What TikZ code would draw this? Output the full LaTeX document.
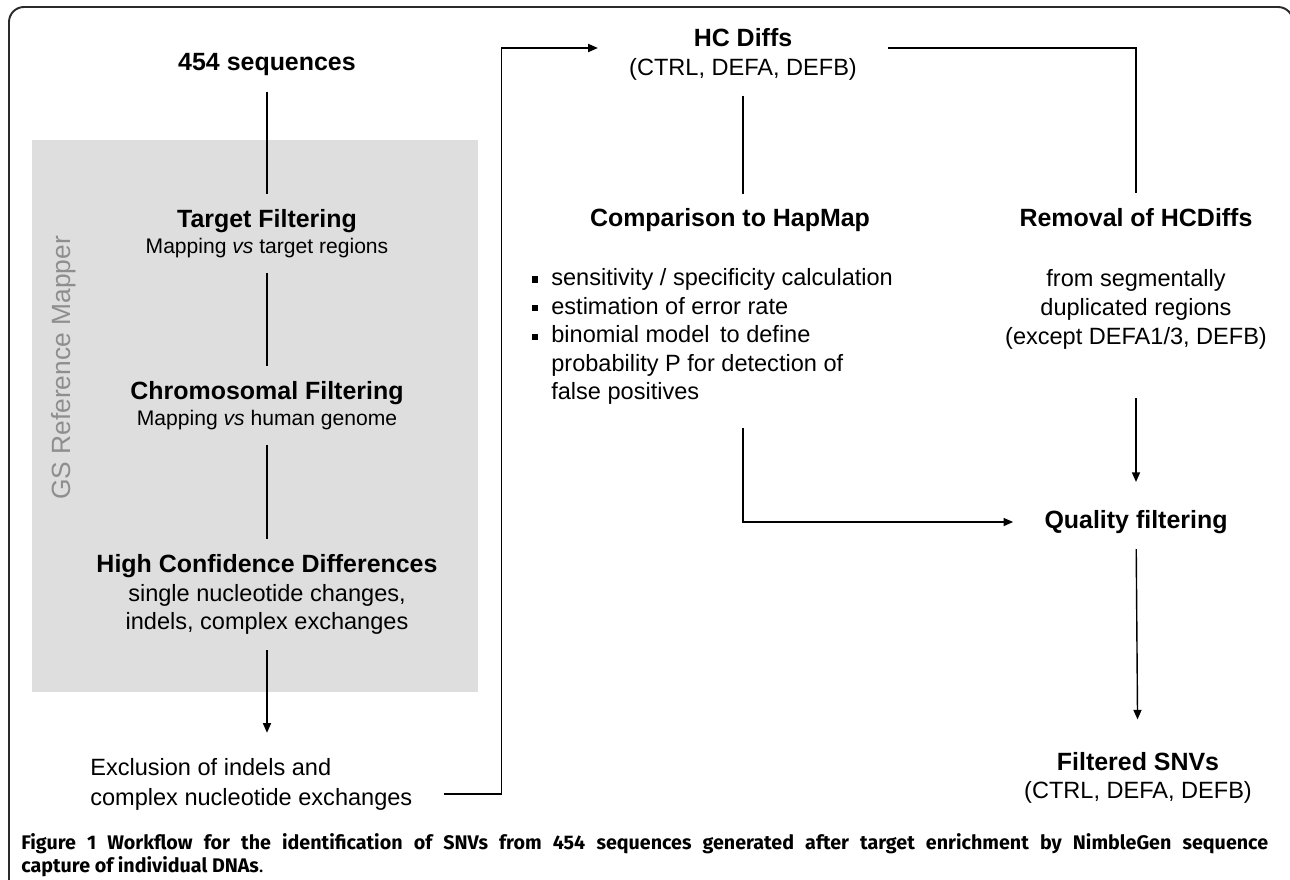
\documentclass[tikz,border=0pt]{standalone}
\usepackage{fontspec}
\setmainfont{Liberation Sans}
\newfontfamily\capfont{Fira Sans}
\usepackage{tikz}
\usetikzlibrary{positioning,arrows.meta}

\definecolor{gsgray}{HTML}{DEDEDE}
\definecolor{gslabel}{HTML}{8E8E8E}
\definecolor{framegray}{HTML}{2A2A2A}

\newcommand{\headfont}{\fontsize{14.2}{16}\selectfont\bfseries}
\newcommand{\subfont}{\fontsize{13.4}{16.3}\selectfont}
\newcommand{\mapfont}{\fontsize{12}{15}\selectfont}
\newcommand{\blt}{\makebox[0.38cm][l]{\rule[0.12em]{0.26em}{0.26em}}}

\begin{document}
\begin{tikzpicture}
    [ x = 0.02cm, y = -0.02cm
    , block/.style =
      { align=center, inner xsep=0.62cm, inner ysep=0.3cm }
    , title/.style =
      { block, font=\headfont }
    , stage/.style =
      { block, font=\mapfont }
    , info/.style =
      { block, font=\subfont }
    , edge/.style =
      { line width=0.8pt }
    , flow/.style =
      { edge, -{Triangle[length=5.5pt,width=4.6pt]} }
    ]
    \useasboundingbox (0,0) rectangle (1290,879);
    \draw [framegray, line width=1.1pt, rounded corners=0.3cm] (9,7) rectangle (1293,900);

    % GS Reference Mapper
    \fill [gsgray] (32,140) rectangle (478,692);
    \node [rotate=90, text=gslabel, font=\fontsize{15}{18}\selectfont] (gs) at (64,368) {GS Reference Mapper};

    \node [title] (seq) at (267,65) {454 sequences};
    \node [stage] (tf) at (267,233.5) {{\headfont Target Filtering}\\ Mapping \textit{vs} target regions};
    \node [stage] (cf) at (267,405.5) {{\headfont Chromosomal Filtering}\\ Mapping \textit{vs} human genome};
    \node [info] (hcd) at (267,594.5) {{\headfont High Confidence Differences}\\ single nucleotide changes,\\ indels, complex exchanges};
    \node [info, align=left, anchor=west] (excl) at (59,784) {Exclusion of indels and\\[0.7pt] complex nucleotide exchanges};

    \node [info] (hc) at (743,54.5) {{\headfont HC Diffs}\\ (CTRL, DEFA, DEFB)};
    \node [title] (cmp) at (730,220.5) {Comparison to HapMap};
    \node [info, align=left, anchor=north west, inner sep=0pt] (bul) at (532,268)
      {\blt sensitivity / specificity calculation\\
       \blt estimation of error rate\\
       \blt binomial model\, to define\\
       \hspace*{0.38cm}probability P for detection of\\
       \hspace*{0.38cm}false positives};
    \node [title] (rem) at (1136,218) {Removal of HCDiffs};
    \node [info] (remsub) [below=0.24cm of rem] {from segmentally\\ duplicated regions\\ (except DEFA1/3, DEFB)};
    \node [title] (qf) at (1136,522) {Quality filtering};
    \node [info] (snv) at (1138,778) {{\headfont Filtered SNVs}\\[-0.7pt] (CTRL, DEFA, DEFB)};

    \node [anchor=north west, inner sep=0pt, text width=24.94cm, align=justify] (cap) at (21,833)
      {\capfont\fontsize{11.2}{13}\selectfont
       \textbf{Figure 1 Workflow for the identification of SNVs from 454 sequences generated after target enrichment by NimbleGen sequence\linebreak capture of individual DNAs}.\par};

    \draw [edge] (seq) -- (tf);
    \draw [edge] (tf) -- (cf);
    \draw [edge] (cf) -- (hcd);
    \draw [flow, shorten >=0.2cm] (hcd) -- (hcd |- excl.north);
    \draw [flow] ([yshift=-0.2cm]excl.east) -- ++(58,0) |- ([yshift=0.13cm]hc.west);
    \draw [edge] ([yshift=0.13cm]hc.east) -| (rem);
    \draw [edge] (hc) -- (hc |- cmp.north);
    \draw [flow, shorten <=0.68cm, shorten >=0.26cm] (remsub) -- (qf);
    \draw [flow, shorten <=0.46cm] (hc |- bul.south) |- (qf);
    \draw [flow, shorten >=0.36cm] (qf) -- (snv);
\end{tikzpicture}
\end{document}
